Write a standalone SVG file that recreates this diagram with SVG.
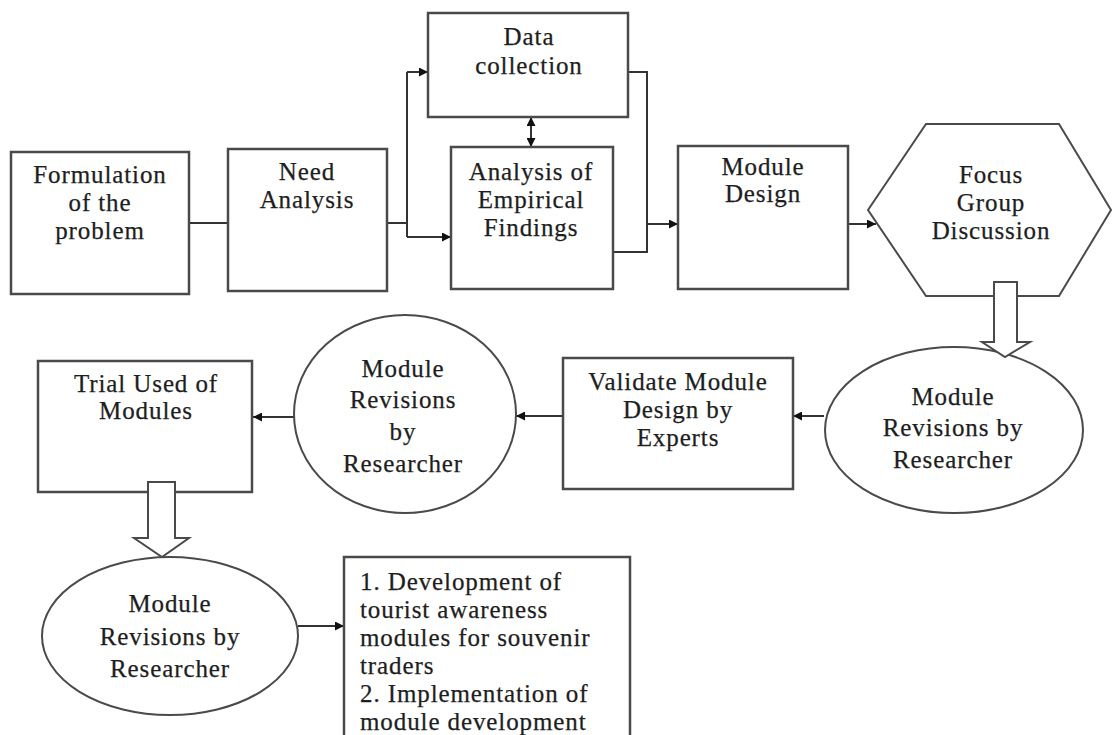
<svg xmlns="http://www.w3.org/2000/svg" width="1112" height="735" viewBox="0 0 1112 735">
<style>
.box{fill:#fff;stroke:#4a4a4a;stroke-width:2.5}
.shape{fill:#fff;stroke:#4a4a4a;stroke-width:2}
.blk{fill:#fff;stroke:#4a4a4a;stroke-width:2}
.c{fill:none;stroke:#333;stroke-width:2}
text{font-family:"Liberation Serif","Times New Roman",serif;font-size:25px;fill:#1e1e1e;stroke:#1e1e1e;stroke-width:0.25;letter-spacing:0.9px}
.m{text-anchor:middle}
</style>
<defs>
<marker id="ah" viewBox="0 0 10 10" refX="10" refY="5" markerWidth="10" markerHeight="9" markerUnits="userSpaceOnUse" orient="auto-start-reverse">
<path d="M0,0 L10,5 L0,10 z" fill="#111"/>
</marker>
</defs>
<rect width="1112" height="735" fill="#fff"/>
<g id="connectors">
<path class="c" d="M189,223 H228"/>
<path class="c" d="M387,223 H407"/>
<path class="c" d="M407,72 V237"/>
<path class="c" d="M407,72 H428" marker-end="url(#ah)"/>
<path class="c" d="M407,237 H451" marker-end="url(#ah)"/>
<path class="c" d="M531,117 V147" marker-start="url(#ah)" marker-end="url(#ah)"/>
<path class="c" d="M628,72 H647 V252 H613"/>
<path class="c" d="M647,224 H678" marker-end="url(#ah)"/>
<path class="c" d="M848,224 H876" marker-end="url(#ah)"/>
<path class="c" d="M824,416 H793" marker-end="url(#ah)"/>
<path class="c" d="M563,416 H516" marker-end="url(#ah)"/>
<path class="c" d="M294,417 H253" marker-end="url(#ah)"/>
<path class="c" d="M298,626 H344" marker-end="url(#ah)"/>
</g>
<g id="formulation">
<rect class="box" x="11" y="152" width="178" height="142"/>
<text class="m" x="100" y="183">Formulation</text>
<text class="m" x="100" y="211">of the</text>
<text class="m" x="100" y="239">problem</text>
</g>
<g id="need-analysis">
<rect class="box" x="228" y="149" width="159" height="142"/>
<text class="m" x="307" y="180">Need</text>
<text class="m" x="307" y="208">Analysis</text>
</g>
<g id="data-collection">
<rect class="box" x="428" y="13" width="200" height="104"/>
<text class="m" x="529" y="45">Data</text>
<text class="m" x="529" y="74">collection</text>
</g>
<g id="analysis-empirical">
<rect class="box" x="451" y="147" width="162" height="142"/>
<text class="m" x="531" y="180">Analysis of</text>
<text class="m" x="531" y="208">Empirical</text>
<text class="m" x="531" y="236">Findings</text>
</g>
<g id="module-design">
<rect class="box" x="678" y="146" width="170" height="143"/>
<text class="m" x="763" y="175">Module</text>
<text class="m" x="763" y="202">Design</text>
</g>
<g id="focus-group">
<polygon class="shape" points="868,210 926,124 1059,124 1111,210 1059,296 926,296"/>
<text class="m" x="991" y="183">Focus</text>
<text class="m" x="991" y="211">Group</text>
<text class="m" x="991" y="239">Discussion</text>
</g>
<g id="revision-right">
<ellipse class="shape" cx="954" cy="430" rx="129" ry="83"/>
<text class="m" x="953" y="405">Module</text>
<text class="m" x="953" y="436">Revisions by</text>
<text class="m" x="953" y="468">Researcher</text>
</g>
<g id="arrow-focus-revision">
<path class="blk" d="M994,282 H1017 V342 H1030 L1005,357 L982,342 H994 Z"/>
</g>
<g id="validate">
<rect class="box" x="563" y="358" width="230" height="131"/>
<text class="m" x="678" y="390">Validate Module</text>
<text class="m" x="678" y="418">Design by</text>
<text class="m" x="678" y="446">Experts</text>
</g>
<g id="revision-middle">
<ellipse class="shape" cx="405" cy="414" rx="111" ry="99"/>
<text class="m" x="403" y="377">Module</text>
<text class="m" x="403" y="408">Revisions</text>
<text class="m" x="403" y="440">by</text>
<text class="m" x="403" y="472">Researcher</text>
</g>
<g id="trial">
<rect class="box" x="38" y="361" width="214" height="131"/>
<text class="m" x="146" y="392">Trial Used of</text>
<text class="m" x="146" y="419">Modules</text>
</g>
<g id="arrow-trial-revision">
<path class="blk" d="M148,482 H175 V538 H189 L162,557 L134,538 H148 Z"/>
</g>
<g id="revision-bottom">
<ellipse class="shape" cx="170" cy="636" rx="128" ry="79"/>
<text class="m" x="170" y="612">Module</text>
<text class="m" x="170" y="645">Revisions by</text>
<text class="m" x="170" y="677">Researcher</text>
</g>
<g id="outcomes">
<rect class="box" x="344" y="557" width="286" height="190"/>
<text x="360" y="590">1. Development of</text>
<text x="360" y="618">tourist awareness</text>
<text x="360" y="646">modules for souvenir</text>
<text x="360" y="674">traders</text>
<text x="360" y="702">2. Implementation of</text>
<text x="360" y="730">module development</text>
</g>
</svg>
